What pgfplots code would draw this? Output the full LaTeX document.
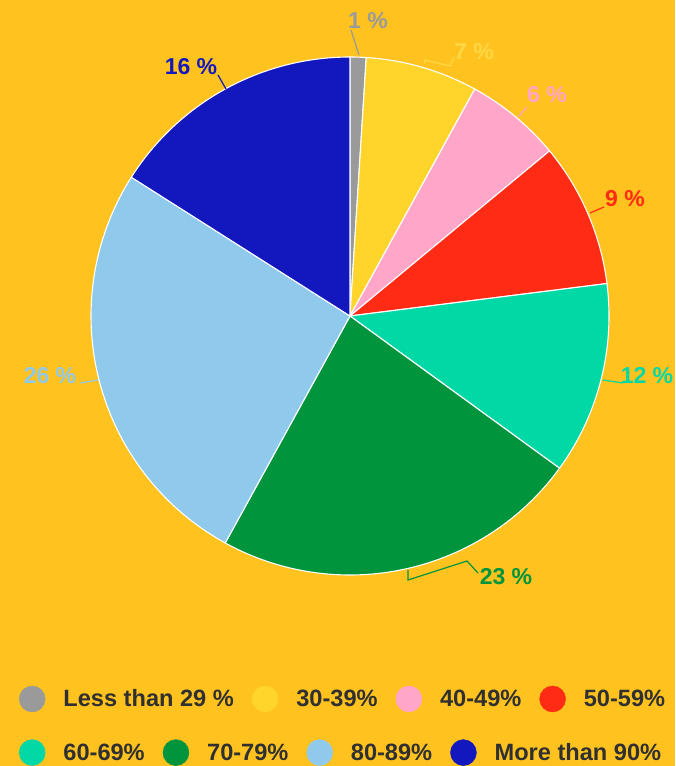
\documentclass[border=0pt]{standalone}
\usepackage{pgfplots}
\usepackage{pgfplotstable}
\pgfplotsset{compat=1.18}
\usepackage{fontspec}
\setmainfont{Liberation Sans}
\definecolor{bgc}{HTML}{FFC21E}
\definecolor{c1}{HTML}{9A9A9A}
\definecolor{c2}{HTML}{FFD52B}
\definecolor{c3}{HTML}{FFA6C9}
\definecolor{c4}{HTML}{FF2B14}
\definecolor{c5}{HTML}{00D8A6}
\definecolor{c6}{HTML}{00953D}
\definecolor{c7}{HTML}{8FC9EC}
\definecolor{c8}{HTML}{1218BD}
\definecolor{lab2}{HTML}{FFD845}
\definecolor{legtext}{HTML}{303030}

\pgfplotstableread{
value colour
1  c1
7  c2
6  c3
9  c4
12 c5
23 c6
26 c7
16 c8
}\pietable

\newcommand{\labfont}{\fontsize{23}{27}\selectfont\bfseries}
\newcommand{\legfont}{\fontsize{23.6}{27}\selectfont\bfseries}

\begin{document}
\begin{tikzpicture}
\begin{axis}[
  name=ax,
  at={(0,0)}, anchor=south west,
  width=675pt, height=766pt, scale only axis,
  xmin=0, xmax=675, ymin=0, ymax=766,
  hide axis, clip=false,
  legend image code/.code={\fill[#1] (13pt,0pt) circle (13pt);},
  legend columns=-1,
  legend cell align=left,
  legend style={at={(0.02815,0.0875)}, anchor=west, draw=none, fill=none,
    inner sep=0pt, outer sep=0pt, column sep=18pt,
    nodes={inner sep=0pt, text=legtext, font=\legfont}},
]
\fill[bgc] (rel axis cs:0,0) rectangle (rel axis cs:1,1);
\def\a{90}
\pgfplotsforeachungrouped \i in {0,...,7}{%
  \pgfplotstablegetelem{\i}{value}\of\pietable
  \let\v\pgfplotsretval
  \pgfplotstablegetelem{\i}{colour}\of\pietable
  \let\c\pgfplotsretval
  \pgfmathsetmacro\b{\a-3.6*\v}%
  \edef\cmd{\noexpand\filldraw[fill=\c, draw=white, line width=1.1pt, line join=round]
    (axis cs:350,450) -- ++(\a:259pt) arc[start angle=\a, end angle=\b, radius=259pt] -- cycle;}%
  \cmd
  \let\a\b
}
% leader lines and labels
\draw[c1, line width=1.2pt] (axis cs:359,711) -- (axis cs:351,736);
\node[text=c1, font=\labfont] at (axis cs:368,745) {1 \%};
\draw[lab2, line width=1.2pt] (axis cs:424,702) -- (axis cs:425,706) -- (axis cs:450,700) -- (axis cs:454,709);
\node[text=lab2, font=\labfont] at (axis cs:474,714) {7 \%};
\draw[c3, line width=1.2pt] (axis cs:518,649) -- (axis cs:527,659);
\node[text=c3, font=\labfont] at (axis cs:547,671) {6 \%};
\draw[c4, line width=1.2pt] (axis cs:590,553) -- (axis cs:604,559);
\node[text=c4, font=\labfont] at (axis cs:625,567) {9 \%};
\draw[c5, line width=1.2pt] (axis cs:603,386) -- (axis cs:623,383);
\node[text=c5, font=\labfont] at (axis cs:647,390) {12 \%};
\draw[c6, line width=1.2pt] (axis cs:408,196) -- (axis cs:408,186) -- (axis cs:467,205) -- (axis cs:478,193);
\node[text=c6, font=\labfont] at (axis cs:506,189) {23 \%};
\draw[c7, line width=1.2pt] (axis cs:80,383) -- (axis cs:98,386);
\node[text=c7, font=\labfont] at (axis cs:50,390) {26 \%};
\draw[c8, line width=1.2pt] (axis cs:218,691) -- (axis cs:226,677);
\node[text=c8, font=\labfont] at (axis cs:191,699) {16 \%};
\addlegendimage{c1}\addlegendentry{Less than 29 \%}
\addlegendimage{c2}\addlegendentry{30-39\%}
\addlegendimage{c3}\addlegendentry{40-49\%}
\addlegendimage{c4}\addlegendentry{50-59\%}
\end{axis}
\begin{axis}[
  at={(ax.south west)}, anchor=south west,
  width=675pt, height=766pt, scale only axis,
  xmin=0, xmax=675, ymin=0, ymax=766,
  hide axis, clip=false,
  legend image code/.code={\fill[#1] (13pt,0pt) circle (13pt);},
  legend columns=-1,
  legend cell align=left,
  legend style={at={(0.02815,0.0175)}, anchor=west, draw=none, fill=none,
    inner sep=0pt, outer sep=0pt, column sep=18pt,
    nodes={inner sep=0pt, text=legtext, font=\legfont}},
]
\addlegendimage{c5}\addlegendentry{60-69\%}
\addlegendimage{c6}\addlegendentry{70-79\%}
\addlegendimage{c7}\addlegendentry{80-89\%}
\addlegendimage{c8}\addlegendentry{More than 90\%}
\end{axis}
\pgfresetboundingbox
\path[use as bounding box] (ax.south west) rectangle (ax.north east);
\end{tikzpicture}
\end{document}
